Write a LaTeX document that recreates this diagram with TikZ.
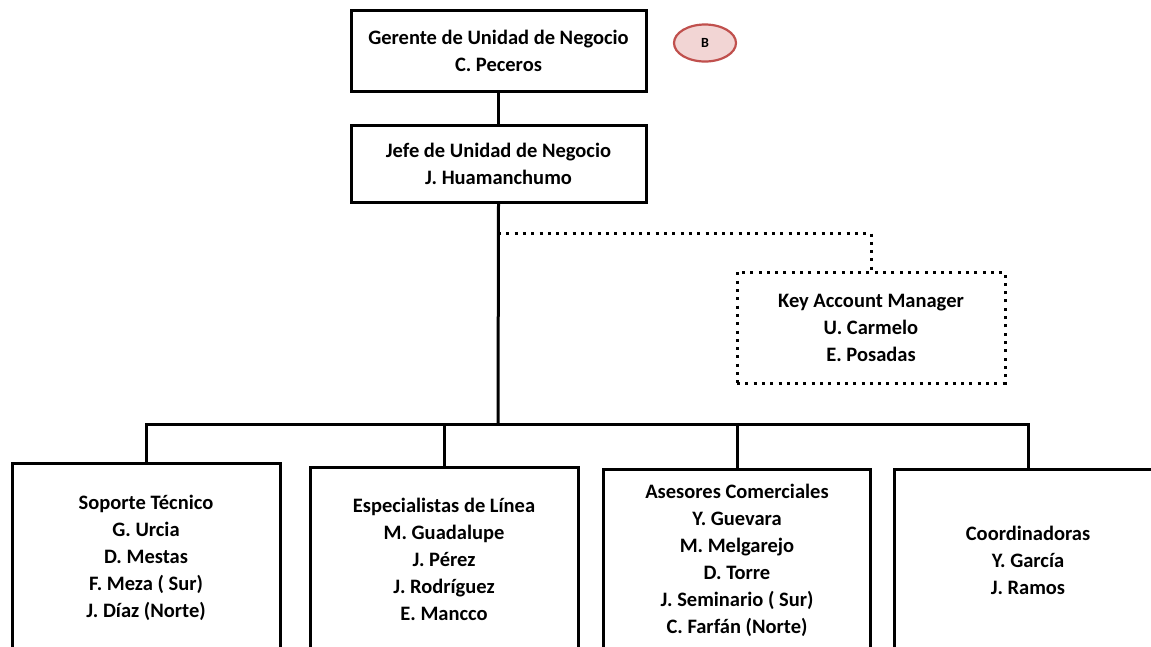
\documentclass[tikz,border=0pt]{standalone}
\usepackage{fontspec}
\setmainfont{Carlito}
\usepackage{tikz}
\usetikzlibrary{shapes.geometric}
\definecolor{markred}{HTML}{C0504D}
\definecolor{markpink}{HTML}{F2D5D4}
\tikzset{>=stealth,
  orgbox/.style={draw,line width=3pt,align=center,inner sep=0pt,
    font=\bfseries\fontsize{20.5}{27}\selectfont},
  orgline/.style={line width=3pt},
  dotline/.style={line width=3pt,dash pattern=on 3pt off 5.3pt}}

\begin{document}
\begin{tikzpicture}[x=1pt,y=-1pt]
      \useasboundingbox (0,0) rectangle (1151,646);
      \node[orgbox,minimum width=295,minimum height=81] (ger) at (498.5,51)
        {Gerente de Unidad de Negocio\\C. Peceros};
      \node[orgbox,minimum width=295,minimum height=77] (jefe) at (498.5,163.5)
        {Jefe de Unidad de Negocio\\J. Huamanchumo};
      \node[draw=markred,fill=markpink,line width=2.2pt,ellipse,minimum width=62,minimum height=37,
        inner sep=0pt,font=\bfseries\fontsize{14}{16}\selectfont] (bmark) at (705,43) {B};
      \node[orgbox,dotline,minimum width=268,minimum height=111] (kam) at (871,327.5)
        {Key Account Manager\\U. Carmelo\\E. Posadas};
      \node[orgbox,minimum width=268,minimum height=189] (sop) at (146,557.5)
        {Soporte Técnico\\G. Urcia\\D. Mestas\\F. Meza ( Sur)\\J. Díaz (Norte)};
      \node[orgbox,minimum width=268,minimum height=185] (esp) at (444,559.5)
        {Especialistas de Línea\\M. Guadalupe\\J. Pérez\\J. Rodríguez\\E. Mancco};
      \node[orgbox,minimum width=267,minimum height=183] (ase) at (737,560.5)
        {Asesores Comerciales\\Y. Guevara\\M. Melgarejo\\D. Torre\\J. Seminario ( Sur)\\C. Farfán (Norte)};
      \node[orgbox,minimum width=268,minimum height=183] (coo) at (1028,560.5)
        {Coordinadoras\\Y. García\\J. Ramos};
      \coordinate (bus) at (498,424);
      \coordinate (fork) at (498,233);
      \draw[orgline] (ger.south) -- (jefe.north);
      \draw[orgline] (jefe.south) -- (bus);
      \draw[orgline] (sop.north) |- (coo.north |- bus) -- (coo.north);
      \draw[orgline] (esp.north) -- (esp.north |- bus);
      \draw[orgline] (ase.north) -- (ase.north |- bus);
      \draw[dotline] (fork) -| (kam.north);
    \end{tikzpicture}
\end{document}
